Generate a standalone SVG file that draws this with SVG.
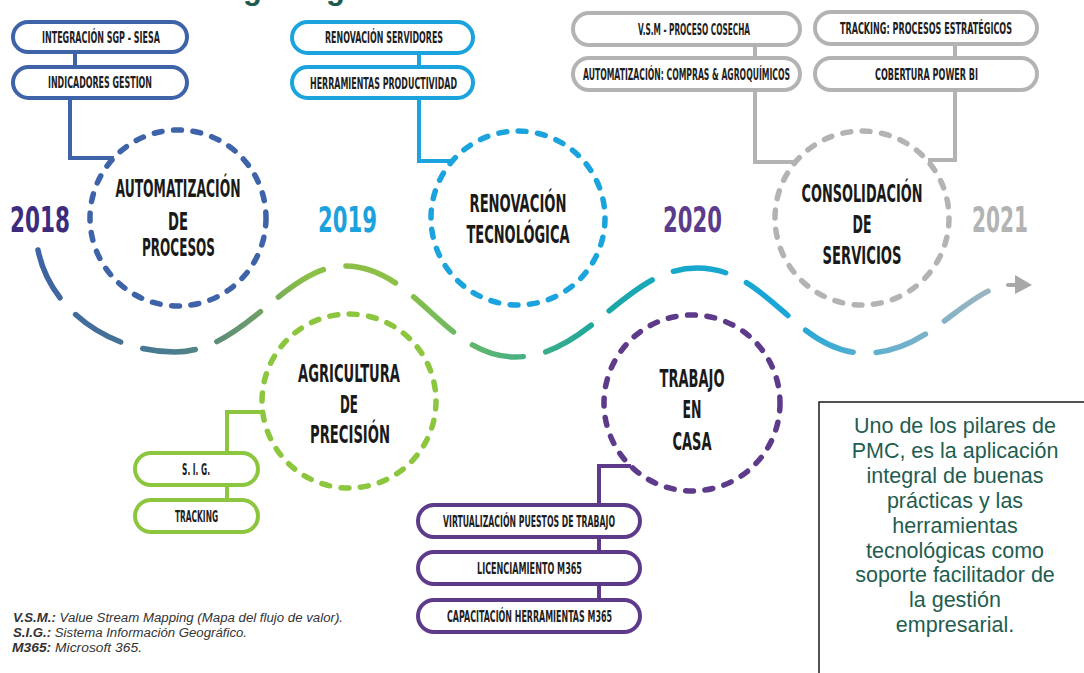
<svg xmlns="http://www.w3.org/2000/svg" width="1084" height="673" viewBox="0 0 1084 673">
  <defs>
    <linearGradient id="waveGrad" gradientUnits="userSpaceOnUse" x1="38" y1="0" x2="1000" y2="0">
      <stop offset="0" stop-color="#3e63a3"/>
      <stop offset="0.14" stop-color="#4a7d8e"/>
      <stop offset="0.22" stop-color="#6a9a6c"/>
      <stop offset="0.28" stop-color="#8cbf45"/>
      <stop offset="0.38" stop-color="#8cbf45"/>
      <stop offset="0.48" stop-color="#52b37a"/>
      <stop offset="0.58" stop-color="#1ea79c"/>
      <stop offset="0.66" stop-color="#17a7c9"/>
      <stop offset="0.78" stop-color="#1aa6d8"/>
      <stop offset="0.86" stop-color="#5aafcf"/>
      <stop offset="1" stop-color="#a3b4bf"/>
    </linearGradient>
    <style>
      .box { fill: #ffffff; stroke-width: 4; }
      .blue { stroke: #3f63a8; }
      .cyan { stroke: #1aa3dc; }
      .gray { stroke: #b3b3b3; }
      .green { stroke: #8cc63f; }
      .purple { stroke: #5e3a8a; }
      .ring { fill: none; stroke-width: 5.5; stroke-dasharray: 8 11.5; stroke-linecap: round; }
      .link { fill: none; stroke-width: 4; }
      .btxt { font-family: "Liberation Sans Narrow", "DejaVu Sans Condensed", "Liberation Sans", sans-serif; font-weight: bold; font-size: 15.5px; fill: #1e1e1e; text-anchor: middle; }
      .ctxt { font-family: "Liberation Sans Narrow", "DejaVu Sans Condensed", "Liberation Sans", sans-serif; font-weight: bold; font-size: 24px; fill: #1a1a1a; text-anchor: middle; }
      .year { font-family: "Liberation Sans Narrow", "DejaVu Sans Condensed", "Liberation Sans", sans-serif; font-weight: bold; font-size: 35px; }
      .legend { font-family: "Liberation Sans", Arial, sans-serif; font-style: italic; font-size: 12px; fill: #333333; }
      .note { font-family: "Liberation Sans", Arial, sans-serif; font-size: 21.5px; fill: #1f5d50; text-anchor: middle; }
    </style>
  </defs>

  <rect width="1084" height="673" fill="#ffffff"/>

  <!-- heading, mostly outside the top edge -->
  <g id="heading" font-family="Liberation Sans, Arial, sans-serif" font-weight="bold" font-size="31" fill="#1d5b4f">
    <text x="243" y="-1">g</text>
    <text x="326" y="-1">g</text>
  </g>

  <!-- timeline wave -->
  <g id="timeline">
    <path d="M38,250 C50,310 110,352 175,352 C245,352 285,266 345,266 C415,266 445,357 515,357 C590,357 625,268 697,268 C770,268 795,353 865,353 C925,353 955,302 1000,286"
          fill="none" stroke="url(#waveGrad)" stroke-width="5.5" stroke-linecap="round" stroke-dasharray="53 23"/>
    <path d="M1008,285 L1015,285" stroke="#a8a8a8" stroke-width="4" stroke-linecap="round"/>
    <polygon points="1015,275 1032,285 1015,294" fill="#a8a8a8"/>
  </g>

  <!-- years -->
  <g id="years">
    <text class="year" x="10" y="232" fill="#3d2b7e" textLength="60" lengthAdjust="spacingAndGlyphs">2018</text>
    <text class="year" x="318" y="232" fill="#1ba1dc" textLength="59" lengthAdjust="spacingAndGlyphs">2019</text>
    <text class="year" x="663" y="232" fill="#5b3b8c" textLength="59" lengthAdjust="spacingAndGlyphs">2020</text>
    <text class="year" x="972" y="232" fill="#b3b3b3" font-weight="normal" textLength="56" lengthAdjust="spacingAndGlyphs">2021</text>
  </g>

  <!-- connectors -->
  <g id="connectors">
    <path class="link blue" d="M75,52 V67"/>
    <path class="link blue" d="M70,98 V158 H114"/>
    <path class="link cyan" d="M419,53 V67"/>
    <path class="link cyan" d="M419,98 V161 H453"/>
    <path class="link gray" d="M755,45 V58"/>
    <path class="link gray" d="M755,90 V162 H796"/>
    <path class="link gray" d="M955,44 V58"/>
    <path class="link gray" d="M955,90 V160 H928"/>
    <path class="link green" d="M227,485 V500"/>
    <path class="link green" d="M227,453 V412 H263"/>
    <path class="link purple" d="M599,537 V552"/>
    <path class="link purple" d="M599,584 V600"/>
    <path class="link purple" d="M599,505 V466 H631"/>
  </g>

  <!-- 2018 -->
  <g id="automatizacion">
    <circle class="ring blue" cx="178" cy="218" r="88"/>
    <text class="ctxt" x="178" y="197" textLength="125" lengthAdjust="spacingAndGlyphs">AUTOMATIZACIÓN</text>
    <text class="ctxt" x="178" y="230" textLength="20" lengthAdjust="spacingAndGlyphs">DE</text>
    <text class="ctxt" x="178.5" y="256" textLength="73" lengthAdjust="spacingAndGlyphs">PROCESOS</text>
  </g>
  <g id="integracion-sgp">
    <rect class="box blue" x="13" y="22" width="174" height="30" rx="15"/>
    <text class="btxt" x="101" y="42.5" textLength="118" lengthAdjust="spacingAndGlyphs">INTEGRACIÓN SGP - SIESA</text>
  </g>
  <g id="indicadores">
    <rect class="box blue" x="13" y="67" width="174" height="31" rx="15.5"/>
    <text class="btxt" x="100" y="88" textLength="104" lengthAdjust="spacingAndGlyphs">INDICADORES GESTION</text>
  </g>

  <!-- 2019 -->
  <g id="renovacion">
    <circle class="ring cyan" cx="518" cy="218" r="87"/>
    <text class="ctxt" x="518" y="212" textLength="97" lengthAdjust="spacingAndGlyphs">RENOVACIÓN</text>
    <text class="ctxt" x="518" y="243" textLength="103" lengthAdjust="spacingAndGlyphs">TECNOLÓGICA</text>
  </g>
  <g id="renovacion-servidores">
    <rect class="box cyan" x="292" y="22" width="181" height="31" rx="15.5"/>
    <text class="btxt" x="384" y="43" textLength="118" lengthAdjust="spacingAndGlyphs">RENOVACIÓN SERVIDORES</text>
  </g>
  <g id="herramientas-productividad">
    <rect class="box cyan" x="292" y="67" width="181" height="31" rx="15.5"/>
    <text class="btxt" x="383.5" y="89" textLength="147" lengthAdjust="spacingAndGlyphs">HERRAMIENTAS PRODUCTIVIDAD</text>
  </g>

  <g id="agricultura">
    <circle class="ring green" cx="349" cy="401" r="87"/>
    <text class="ctxt" x="349" y="382" textLength="102" lengthAdjust="spacingAndGlyphs">AGRICULTURA</text>
    <text class="ctxt" x="349" y="413" textLength="18" lengthAdjust="spacingAndGlyphs">DE</text>
    <text class="ctxt" x="350" y="443" textLength="80" lengthAdjust="spacingAndGlyphs">PRECISIÓN</text>
  </g>
  <g id="sig">
    <rect class="box green" x="135" y="453" width="123" height="32" rx="16"/>
    <text class="btxt" x="196" y="474.5" textLength="28" lengthAdjust="spacingAndGlyphs">S. I. G.</text>
  </g>
  <g id="tracking">
    <rect class="box green" x="135" y="500" width="123" height="32" rx="16"/>
    <text class="btxt" x="196.5" y="521.5" textLength="43" lengthAdjust="spacingAndGlyphs">TRACKING</text>
  </g>

  <!-- 2020 -->
  <g id="consolidacion">
    <circle class="ring gray" cx="862" cy="218" r="87"/>
    <text class="ctxt" x="862" y="202" textLength="121" lengthAdjust="spacingAndGlyphs">CONSOLIDACIÓN</text>
    <text class="ctxt" x="862" y="233" textLength="19" lengthAdjust="spacingAndGlyphs">DE</text>
    <text class="ctxt" x="862" y="264" textLength="79" lengthAdjust="spacingAndGlyphs">SERVICIOS</text>
  </g>
  <g id="vsm-cosecha">
    <rect class="box gray" x="573" y="13" width="227" height="32" rx="16"/>
    <text class="btxt" x="694" y="34.5" textLength="112" lengthAdjust="spacingAndGlyphs">V.S.M - PROCESO COSECHA</text>
  </g>
  <g id="automatizacion-compras">
    <rect class="box gray" x="573" y="58" width="227" height="32" rx="16"/>
    <text class="btxt" x="686.5" y="79.5" textLength="207" lengthAdjust="spacingAndGlyphs">AUTOMATIZACIÓN: COMPRAS &amp; AGROQUÍMICOS</text>
  </g>
  <g id="tracking-estrategicos">
    <rect class="box gray" x="815" y="12" width="222" height="32" rx="16"/>
    <text class="btxt" x="926" y="33.5" textLength="172" lengthAdjust="spacingAndGlyphs">TRACKING: PROCESOS ESTRATÉGICOS</text>
  </g>
  <g id="cobertura-power-bi">
    <rect class="box gray" x="815" y="58" width="222" height="32" rx="16"/>
    <text class="btxt" x="926.5" y="79.5" textLength="103" lengthAdjust="spacingAndGlyphs">COBERTURA POWER BI</text>
  </g>

  <g id="trabajo-casa">
    <circle class="ring purple" cx="692" cy="403" r="88"/>
    <text class="ctxt" x="692" y="387" textLength="65" lengthAdjust="spacingAndGlyphs">TRABAJO</text>
    <text class="ctxt" x="692" y="418" textLength="19" lengthAdjust="spacingAndGlyphs">EN</text>
    <text class="ctxt" x="692" y="450" textLength="39" lengthAdjust="spacingAndGlyphs">CASA</text>
  </g>
  <g id="virtualizacion">
    <rect class="box purple" x="418" y="505" width="222" height="32" rx="16"/>
    <text class="btxt" x="529" y="526.5" textLength="172" lengthAdjust="spacingAndGlyphs">VIRTUALIZACIÓN PUESTOS DE TRABAJO</text>
  </g>
  <g id="licenciamiento">
    <rect class="box purple" x="418" y="552" width="222" height="32" rx="16"/>
    <text class="btxt" x="529.5" y="573.5" textLength="105" lengthAdjust="spacingAndGlyphs">LICENCIAMIENTO M365</text>
  </g>
  <g id="capacitacion">
    <rect class="box purple" x="418" y="600" width="222" height="32" rx="16"/>
    <text class="btxt" x="529.5" y="621.5" textLength="165" lengthAdjust="spacingAndGlyphs">CAPACITACIÓN HERRAMIENTAS M365</text>
  </g>

  <!-- abbreviations -->
  <g id="legend">
    <text class="legend" x="13" y="622" textLength="330" lengthAdjust="spacingAndGlyphs"><tspan font-weight="bold">V.S.M.:</tspan> Value Stream Mapping (Mapa del flujo de valor).</text>
    <text class="legend" x="13" y="637" textLength="234" lengthAdjust="spacingAndGlyphs"><tspan font-weight="bold">S.I.G.:</tspan> Sistema Información Geográfico.</text>
    <text class="legend" x="12" y="652" textLength="130" lengthAdjust="spacingAndGlyphs"><tspan font-weight="bold">M365:</tspan> Microsoft 365.</text>
  </g>

  <!-- statement box -->
  <g id="statement">
    <rect x="819" y="402" width="300" height="300" fill="#ffffff" stroke="#1a1a1a" stroke-width="1.5"/>
    <text class="note" x="955" y="433">Uno de los pilares de</text>
    <text class="note" x="955" y="458">PMC, es la aplicación</text>
    <text class="note" x="955" y="483">integral de buenas</text>
    <text class="note" x="955" y="508">prácticas y las</text>
    <text class="note" x="955" y="533">herramientas</text>
    <text class="note" x="955" y="558">tecnológicas como</text>
    <text class="note" x="955" y="582">soporte facilitador de</text>
    <text class="note" x="955" y="607">la gestión</text>
    <text class="note" x="955" y="632">empresarial.</text>
  </g>
</svg>
